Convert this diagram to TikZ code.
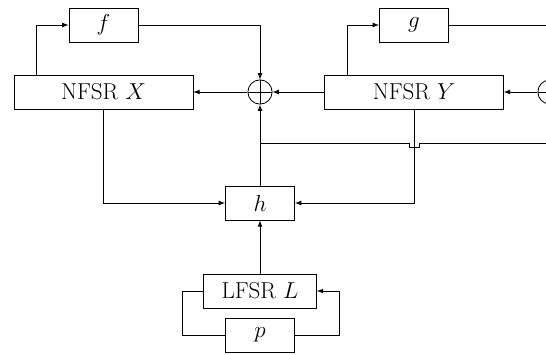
\RequirePackage{fix-cm}
\documentclass[tikz,border=0pt]{standalone}
\usetikzlibrary{calc}

\begin{document}
\begin{tikzpicture}[x=0.0256cm, y=-0.0256cm, >=latex, semithick]
    % Define styles
    \tikzset{
        box/.style={draw, rectangle, minimum width=1.77cm, minimum height=0.87cm, inner sep=0pt,
            font=\fontsize{16.8pt}{20pt}\selectfont},
        widebox/.style={box, minimum width=4.58cm},
        lfsrbox/.style={box, minimum width=2.89cm},
        xor/.style={draw, circle, minimum size=0.62cm, inner sep=0pt,
            path picture={\draw (path picture bounding box.north) -- (path picture bounding box.south)
                (path picture bounding box.west) -- (path picture bounding box.east);}}
    }

    % Fix picture size and clip the part that runs off the right edge
    \useasboundingbox (0,0) rectangle (546,354);
    \clip (0,0) rectangle (546,354);

    % Draw the blocks
    \node[box] (f) at (103.5,25) {$f$};
    \node[widebox] (X) at (103.5,92) {NFSR $X$};
    \node[xor] (xorX) at (260,92) {};
    \node[box] (g) at (414,25) {$g$};
    \node[widebox] (Y) at (414,92) {NFSR $Y$};
    \node[xor] (xorY) at (550,92) {};
    \node[box] (h) at (260,203) {$h$};
    \node[lfsrbox] (L) at (260,291) {LFSR $L$};
    \node[box] (p) at (260,335) {$p$};

    % Define helper coordinates
    \coordinate (tap) at (xorX |- 0,143);
    \coordinate (bridgeL) at ($(Y.south |- tap)+(-5,0)$);
    \coordinate (bridgeR) at ($(Y.south |- tap)+(5,0)$);
    \coordinate (out) at (560,143);
    \coordinate (gout) at (560,25);

    % Draw feedback of NFSR X
    \draw[->] ($(X.north west)+(23,0)$) |- (f.west);
    \draw[->] (f.east) -| (xorX.north);
    \draw[->] (xorX.west) -- (X.east);

    % Draw feedback of NFSR Y
    \draw[->] ($(Y.north west)+(23,0)$) |- (g.west);
    \draw (g.east) -- (gout);
    \draw[->] (Y.west) -- (xorX.east);
    \draw[->] (xorY.west) -- (Y.east);

    % Draw inputs of h
    \draw[->] (X.south) |- (h.west);
    \draw[->] (Y.south) |- (h.east);
    \draw[->] (L.north) -- (h.south);

    % Draw output of h with a jump over the NFSR Y line
    \draw[->] (h.north) -- (xorX.south);
    \draw (tap) -- (bridgeL) -- ++(0,4) -| (bridgeR) -- (out);

    % Draw feedback of LFSR L
    \draw (L.west) -- ++(-21,0) |- (p.west);
    \draw[->] (p.east) -- ++(44,0) |- (L.east);

\end{tikzpicture}
\end{document}
